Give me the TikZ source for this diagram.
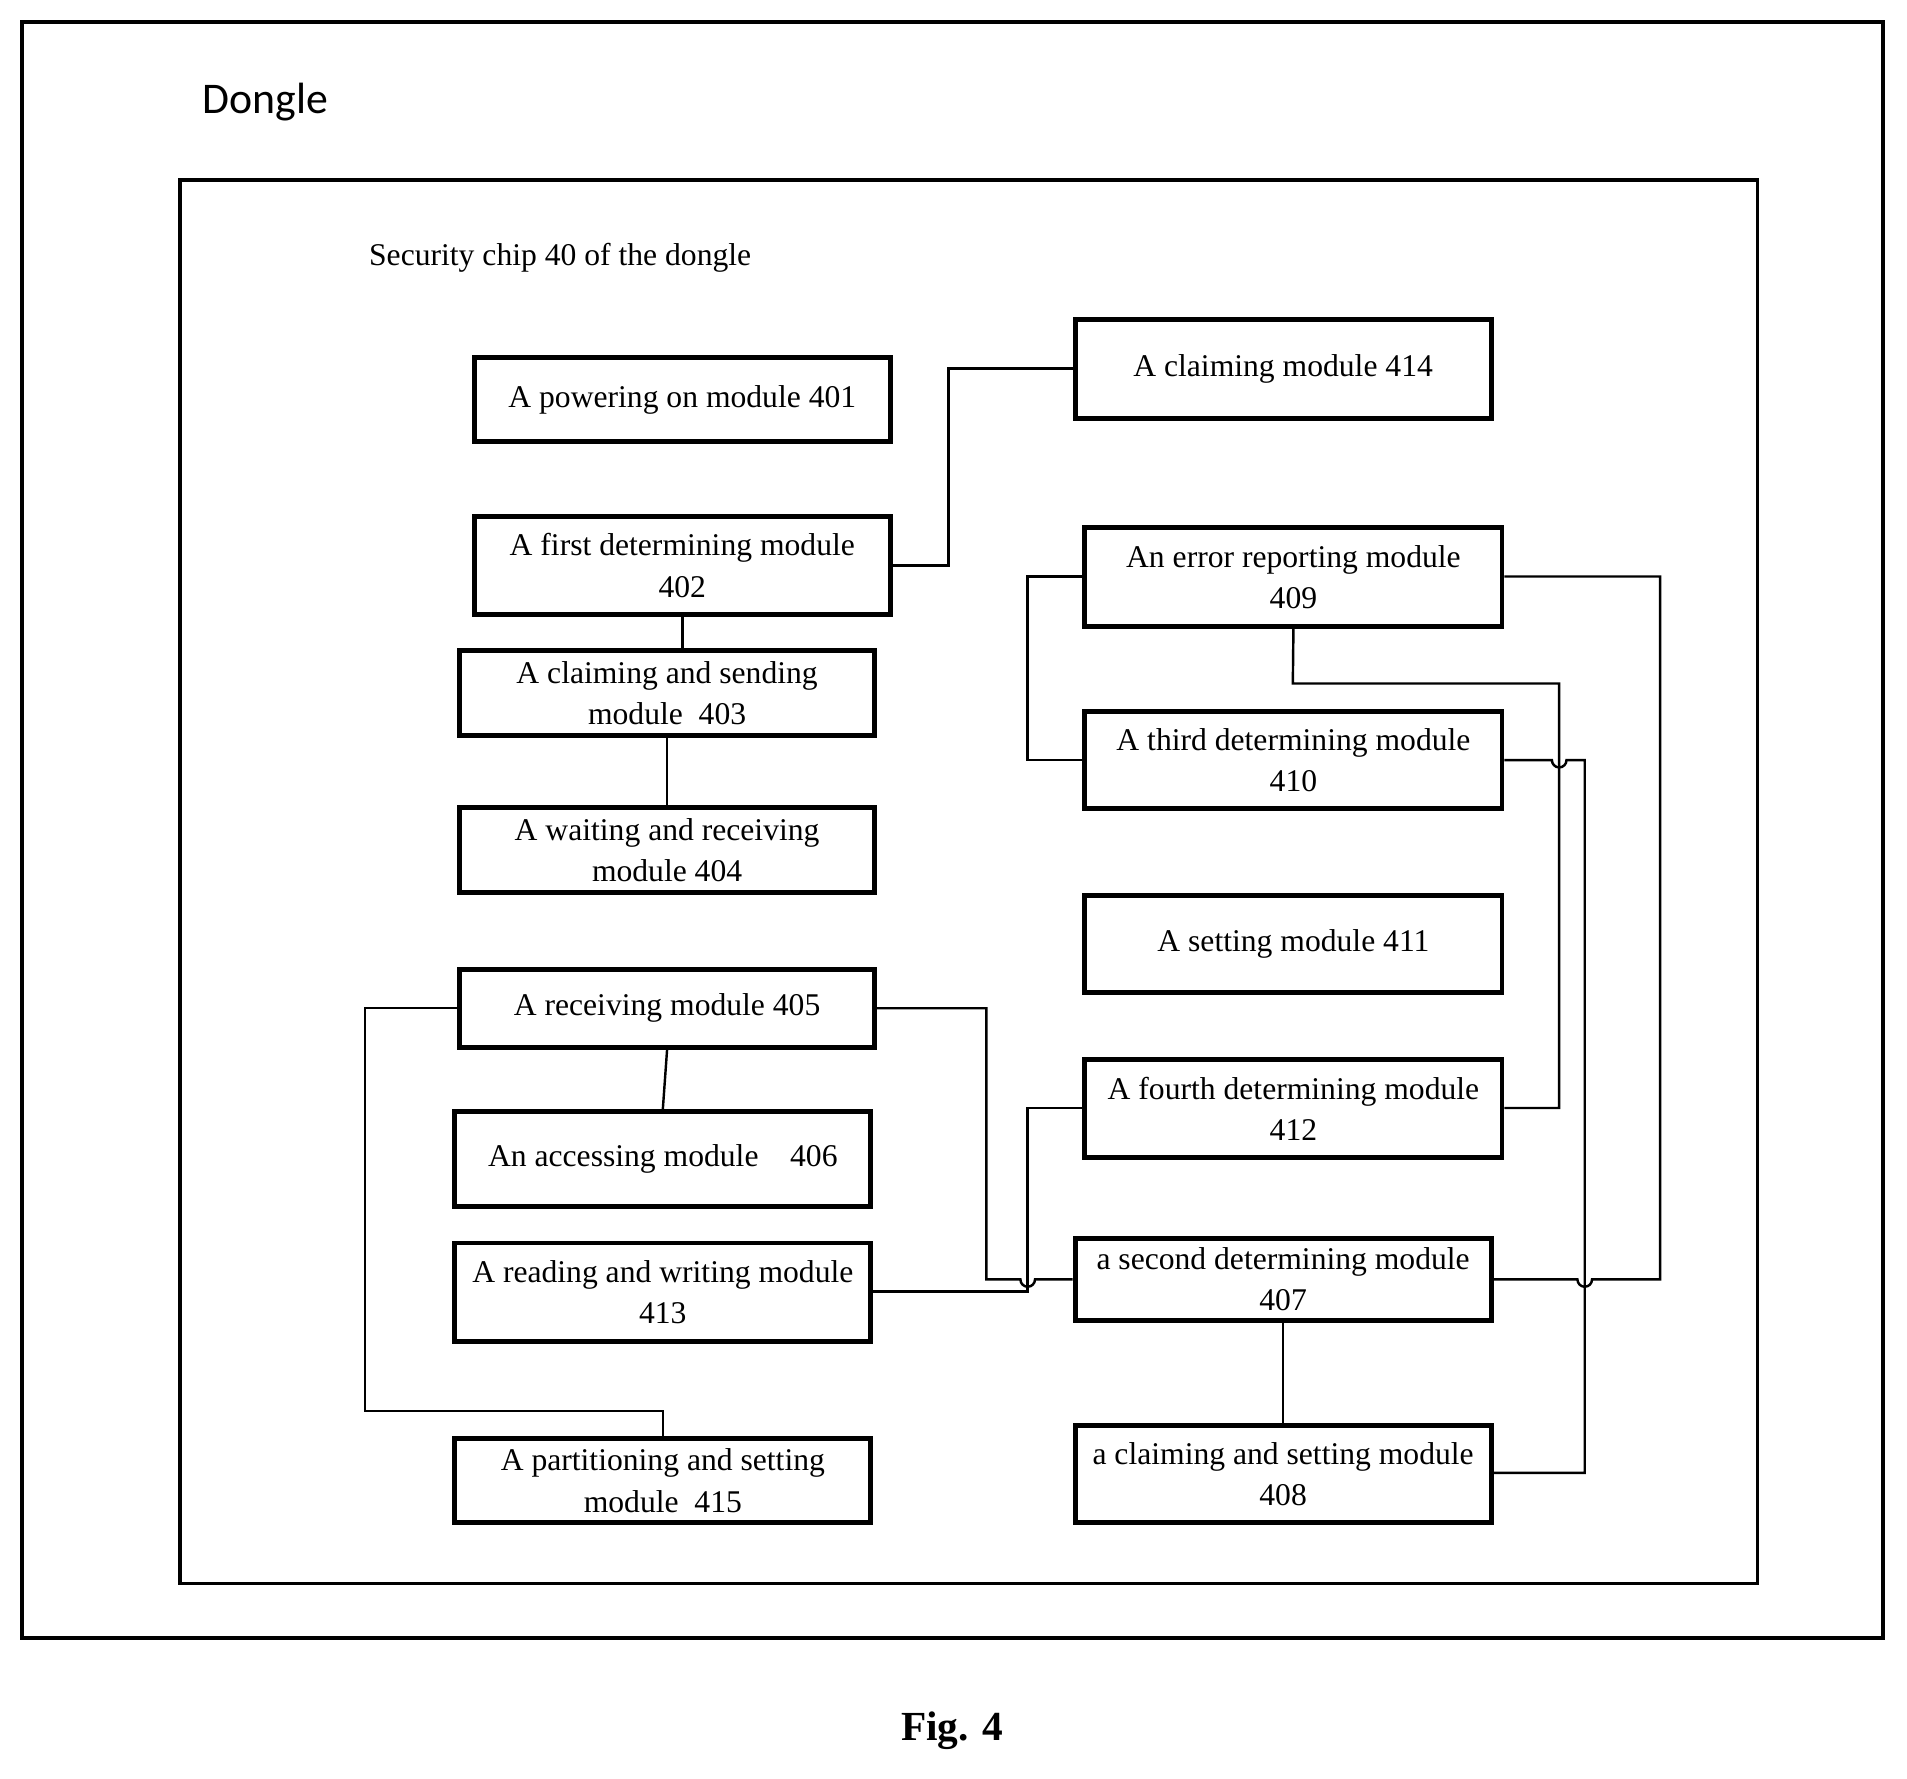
\documentclass[tikz,border=0pt]{standalone}
\usepackage{fontspec}
\setmainfont{Liberation Serif}
\newfontfamily\dsans{Carlito}
\begin{document}
\begin{tikzpicture}[x=1pt,y=-1pt,
 box/.style={draw,line width=4pt,inner sep=0pt,align=center,font=\fontsize{26}{34}\selectfont},
 ln/.style={line width=2pt}]
\useasboundingbox (0,0) rectangle (1568,1462);
\draw[line width=3pt] (18,18) rectangle (1548,1347);
\draw[line width=3pt] (148,148) rectangle (1445,1302);
\node[anchor=west,font=\dsans\fontsize{36}{40}\selectfont] (dg) at (163,84) {Dongle};
\node[anchor=west,font=\fontsize{26}{30}\selectfont] (sc) at (300,212) {Security chip 40 of the dongle};
\node[font=\bfseries\fontsize{34}{40}\selectfont] (fig) at (783,1423) {Fig. 4};
\def\bx#1#2#3#4#5#6{\node[box,minimum width=#4 pt - #2 pt,minimum height=#5 pt - #3 pt] (#1) at ({(#2+#4)/2},{(#3+#5)/2}) {#6};}
\bx{m401}{390}{294}{732}{363}{A powering on module 401}
\bx{m414}{884}{263}{1226}{344}{A claiming module 414}
\bx{m402}{390}{425}{732}{505}{A first determining module\\402}
\bx{m403}{378}{535}{719}{605}{A claiming and sending\\module~ 403}
\bx{m404}{378}{664}{719}{734}{A waiting and receiving\\module 404}
\bx{m409}{892}{434}{1235}{515}{An error reporting module\\409}
\bx{m410}{892}{585}{1235}{665}{A third determining module\\410}
\bx{m411}{892}{736}{1235}{816}{A setting module 411}
\bx{m405}{378}{797}{719}{861}{A receiving module 405}
\bx{m406}{374}{914}{716}{992}{An accessing module~~~ 406}
\bx{m413}{374}{1022}{716}{1103}{A reading and writing module\\413}
\bx{m412}{892}{871}{1235}{952}{A fourth determining module\\412}
\bx{m407}{884}{1018}{1226}{1086}{a second determining module\\407}
\bx{m408}{884}{1172}{1226}{1252}{a claiming and setting module\\408}
\bx{m415}{374}{1183}{716}{1252}{A partitioning and setting\\module~ 415}
\draw[ln] (m402.east |- 0,465) -- (780,465) -- (780,303) -- (m414.west |- 0,303);
\draw[ln] (561,505) -- (561,535);
\draw[ln] (m403.south) -- (m404.north);
\draw[ln] (m405.south) -- (m406.north);
\draw[ln] (m407.south) -- (m408.north);
\draw[ln] (m409.west |- 0,474) -- (845,474) -- (845,625) -- (m410.west |- 0,625);
\draw[ln] (m409.south) -- (1063,562) -- (1282,562) -- (1282,911) -- (m412.east |- 0,911);
\draw[ln] (m410.east |- 0,625) -- (1276,625) arc(180:0:6) -- (1303,625) -- (1303,1211) -- (m408.east |- 0,1211);
\draw[ln] (m409.east |- 0,474) -- (1365,474) -- (1365,1052) -- (1309,1052) arc(0:180:6) -- (m407.east |- 0,1052);
\draw[ln] (m405.east |- 0,829) -- (811,829) -- (811,1052) -- (839,1052) arc(180:0:6) -- (m407.west |- 0,1052);
\draw[ln] (m412.west |- 0,911) -- (845,911) -- (845,1062) -- (m413.east |- 0,1062);
\draw[ln] (m405.west |- 0,829) -- (300,829) -- (300,1160) -- (545,1160) -- (545,1183);
\end{tikzpicture}
\end{document}
